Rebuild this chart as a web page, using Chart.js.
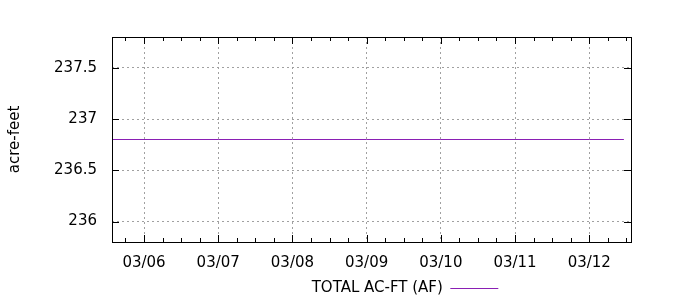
<!DOCTYPE html>
<html>
<head>
<meta charset="utf-8">
<script src="https://cdn.jsdelivr.net/npm/chart.js@4/dist/chart.umd.min.js"></script>
<style>
  html, body { margin: 0; padding: 0; background: #fff; }
  #wrap { width: 700px; height: 300px; }
</style>
</head>
<body>
<div id="wrap"><canvas id="chart"></canvas></div>
<script>
const seriesName = 'TOTAL AC-FT (AF)';
// hours since 03/05 00:00
const times = [13.7, 24, 48, 72, 96, 120, 144, 168, 179.2];
const acreFeet = [236.8, 236.8, 236.8, 236.8, 236.8, 236.8, 236.8, 236.8, 236.8];
const dayHours = [24, 48, 72, 96, 120, 144, 168];
const dayLabels = ['03/06', '03/07', '03/08', '03/09', '03/10', '03/11', '03/12'];
const yTicks = [236, 236.5, 237, 237.5];

const font = { family: 'DejaVu Sans', size: 15 };

// gnuplot-style frame with inward tick marks
const frame = {
  id: 'frame',
  afterLayout(chart) {
    const lg = chart.legend;
    const shift = 405 - (lg.left + lg.right) / 2;
    lg.left += shift;
    lg.right += shift;
    lg.top += 6;
    lg.bottom += 6;
  },
  afterDatasetsDraw(chart) {
    const { ctx, chartArea: a, scales: { x, y } } = chart;
    ctx.save();
    ctx.strokeStyle = '#000';
    ctx.lineWidth = 1;
    ctx.beginPath();
    for (let h = Math.ceil(x.min / 6) * 6; h <= x.max; h += 6) {
      const px = Math.round(x.getPixelForValue(h)) + 0.5;
      const len = h % 24 === 0 ? 7 : 4;
      ctx.moveTo(px, a.bottom); ctx.lineTo(px, a.bottom - len);
      ctx.moveTo(px, a.top); ctx.lineTo(px, a.top + len);
    }
    yTicks.forEach(v => {
      const py = Math.round(y.getPixelForValue(v)) + 0.5;
      ctx.moveTo(a.left, py); ctx.lineTo(a.left + 7, py);
      ctx.moveTo(a.right, py); ctx.lineTo(a.right - 7, py);
    });
    ctx.stroke();
    ctx.strokeRect(a.left + 0.5, a.top + 0.5, a.right - a.left, a.bottom - a.top);
    ctx.restore();
  }
};

new Chart(document.getElementById('chart'), {
  type: 'line',
  data: {
    datasets: [{
      label: seriesName,
      data: times.map((t, i) => ({ x: t, y: acreFeet[i] })),
      borderColor: '#8a1fb4',
      borderWidth: 1,
      pointRadius: 0,
      tension: 0,
    }],
  },
  options: {
    animation: false,
    responsive: true,
    maintainAspectRatio: false,
    layout: { padding: { left: 0, top: 37, right: 69, bottom: 0 } },
    plugins: {
      tooltip: { enabled: false },
      legend: {
        position: 'bottom',
        rtl: true,
        labels: {
          usePointStyle: true,
          pointStyle: 'line',
          pointStyleWidth: 48,
          color: '#000',
          font,
          padding: 6,
        },
      },
    },
    scales: {
      x: {
        type: 'linear',
        min: 13.65,
        max: 181.5,
        afterBuildTicks(s) { s.ticks = dayHours.map(v => ({ value: v })); },
        afterFit(s) { s.height = 300 - 242 - s.chart.legend.height; },
        ticks: {
          color: '#000',
          font,
          padding: 12,
          maxRotation: 0,
          autoSkip: false,
          callback: v => dayLabels[dayHours.indexOf(v)],
        },
        grid: { color: '#a0a0a0', drawTicks: false },
        border: { display: false, dash: [2, 3] },
      },
      y: {
        min: 235.8,
        max: 237.8,
        afterBuildTicks(s) { s.ticks = yTicks.map(v => ({ value: v })); },
        afterFit(s) { s.width = 112; },
        ticks: {
          color: '#000',
          font,
          padding: 15,
          callback: v => String(v),
        },
        grid: { color: '#a0a0a0', drawTicks: false },
        border: { display: false, dash: [2, 3] },
        title: {
          display: true,
          text: 'acre-feet',
          color: '#000',
          font,
          padding: { top: 6, bottom: 0 },
        },
      },
    },
  },
  plugins: [frame],
});
</script>
</body>
</html>
